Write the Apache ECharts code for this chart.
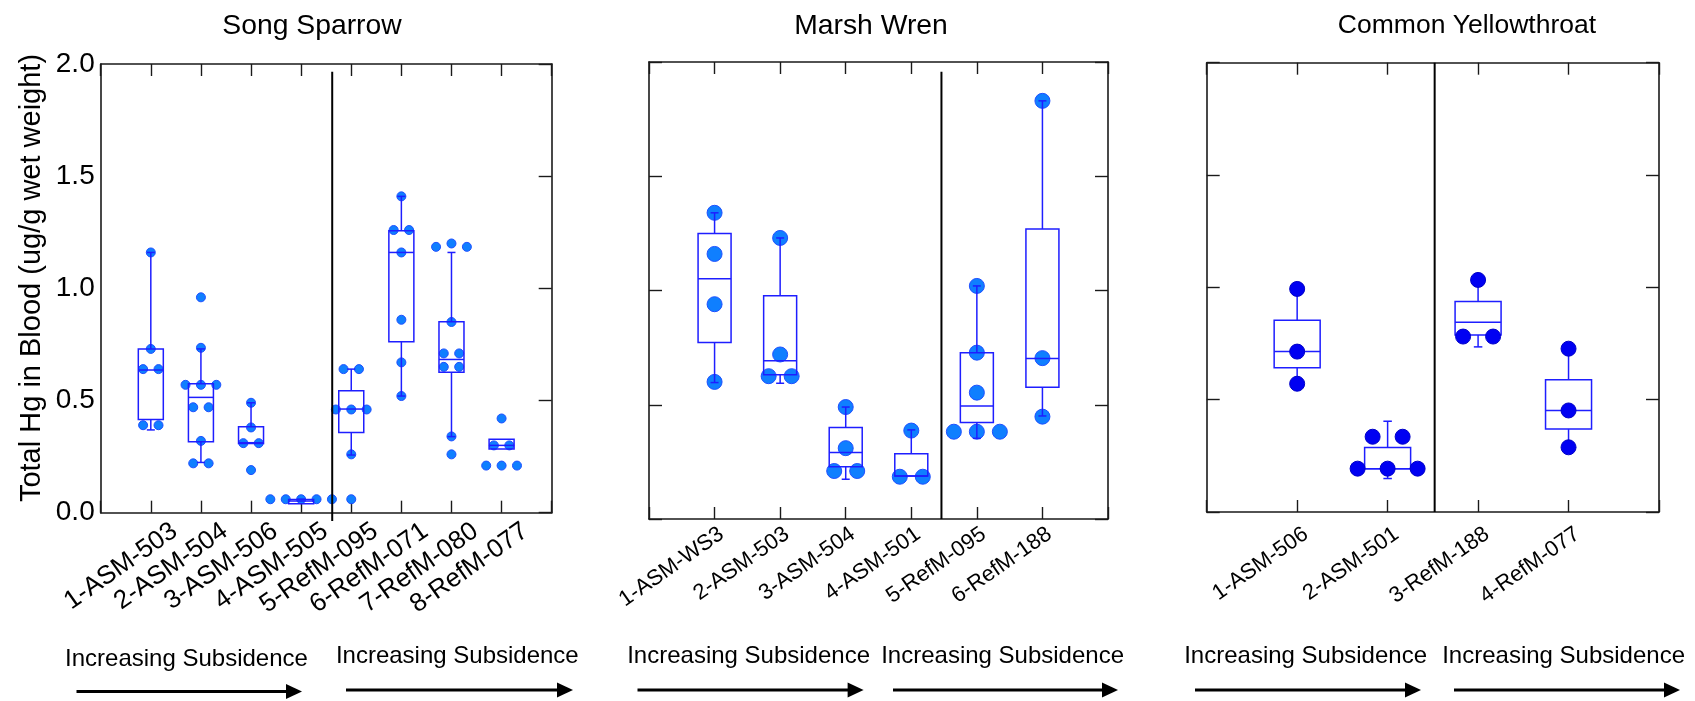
<!DOCTYPE html>
<html><head><meta charset="utf-8">
<script src="https://cdn.jsdelivr.net/npm/echarts@6/dist/echarts.min.js"></script>
<style>html,body{margin:0;padding:0;background:#fff}#chart{width:1695px;height:701px}</style>
</head><body><div id="chart"></div>
<script>
// ================= DATA =================
const yMin = 0, yMax = 2.0, yInterval = 0.5;
const yAxisTitle = 'Total Hg in Blood (ug/g wet weight)';
const footnoteText = 'Increasing Subsidence';

// Song Sparrow
const ssTitle = 'Song Sparrow';
const ssCategories = ['1-ASM-503','2-ASM-504','3-ASM-506','4-ASM-505','5-RefM-095','6-RefM-071','7-RefM-080','8-RefM-077'];
const ssWhiskerHigh = [1.16, 0.73, 0.49, 0.06, 0.64, 1.41, 1.16, 0.327];
const ssQ3          = [0.73, 0.575, 0.383, 0.059, 0.544, 1.257, 0.851, 0.327];
const ssMedian      = [0.636, 0.514, 0.312, 0.052, 0.462, 1.160, 0.683, 0.300];
const ssQ1          = [0.415, 0.316, 0.309, 0.040, 0.358, 0.762, 0.626, 0.284];
const ssWhiskerLow  = [0.369, 0.224, 0.309, 0.040, 0.257, 0.520, 0.339, 0.284];
const ssPoints = [
  [1.16, 0.73, 0.64, 0.64, 0.39, 0.39],
  [0.96, 0.735, 0.57, 0.57, 0.57, 0.47, 0.47, 0.32, 0.22, 0.22],
  [0.49, 0.38, 0.31, 0.31, 0.19],
  [0.06, 0.06, 0.06, 0.06, 0.06],
  [0.64, 0.64, 0.46, 0.46, 0.46, 0.26, 0.06],
  [1.41, 1.26, 1.26, 1.16, 0.86, 0.67, 0.52],
  [1.185, 1.20, 1.185, 0.85, 0.71, 0.71, 0.65, 0.65, 0.34, 0.26],
  [0.42, 0.30, 0.30, 0.21, 0.21, 0.21]
];
const ssDividerX = 4.62;

// Marsh Wren
const mwTitle = 'Marsh Wren';
const mwCategories = ['1-ASM-WS3','2-ASM-503','3-ASM-504','4-ASM-501','5-RefM-095','6-RefM-188'];
const mwWhiskerHigh = [1.34, 1.23, 0.49, 0.39, 1.02, 1.83];
const mwQ3          = [1.25, 0.977, 0.40, 0.286, 0.728, 1.269];
const mwMedian      = [1.051, 0.693, 0.291, 0.188, 0.495, 0.702];
const mwQ1          = [0.772, 0.631, 0.229, 0.188, 0.422, 0.577];
const mwWhiskerLow  = [0.597, 0.594, 0.174, 0.188, 0.353, 0.451];
const mwPoints = [
  [1.34, 1.16, 0.94, 0.60],
  [1.23, 0.72, 0.625, 0.625],
  [0.49, 0.31, 0.21, 0.21],
  [0.387, 0.185, 0.185],
  [1.02, 0.728, 0.553, 0.382, 0.382, 0.382],
  [1.83, 0.704, 0.448]
];
const mwDividerX = 4.46;

// Common Yellowthroat
const cyTitle = 'Common Yellowthroat';
const cyCategories = ['1-ASM-506','2-ASM-501','3-RefM-188','4-RefM-077'];
const cyWhiskerHigh = [0.993, 0.404, 1.033, 0.727];
const cyQ3          = [0.853, 0.287, 0.937, 0.589];
const cyMedian      = [0.714, 0.193, 0.845, 0.452];
const cyQ1          = [0.642, 0.193, 0.788, 0.369];
const cyWhiskerLow  = [0.571, 0.149, 0.735, 0.288];
const cyPoints = [
  [0.993, 0.714, 0.571],
  [0.335, 0.335, 0.193, 0.193, 0.193],
  [1.033, 0.781, 0.781],
  [0.727, 0.452, 0.288]
];
const cyDividerX = 2.52;

// ================= LAYOUT / STYLE =================
const FONT = "'Liberation Sans', Arial, Helvetica, sans-serif";
const FRAME = '#1a1a1a';
const BOX = '#1e1eff';

const panels = [
  { title: ssTitle, cats: ssCategories, hi: ssWhiskerHigh, q3: ssQ3, med: ssMedian, q1: ssQ1, lo: ssWhiskerLow, pts: ssPoints,
    divX: ssDividerX, divTopPx: 71.7, divBottomPx: 521,
    L: {left: 100.7, right: 551.7, top: 64, bottom: 512.7}, titleX: 312, titleSize: 28.3,
    labelShift: 24, labelMargin: 16, labelSize: 26, showYLabels: true, leftTicks: false,
    marker: 9, spacing: 15.4, boxW: 25, capW: 8, pointsOnTop: false, fill: '#0f7fff', stroke: '#1f50ff' },
  { title: mwTitle, cats: mwCategories, hi: mwWhiskerHigh, q3: mwQ3, med: mwMedian, q1: mwQ1, lo: mwWhiskerLow, pts: mwPoints,
    divX: mwDividerX, divTopPx: 71.7, divBottomPx: 519,
    L: {left: 649, right: 1108, top: 62, bottom: 519}, titleX: 871, titleSize: 28.3,
    labelShift: 7, labelMargin: 13, labelSize: 22, showYLabels: false, leftTicks: true,
    marker: 15, spacing: 23, boxW: 33, capW: 8, pointsOnTop: false, fill: '#0f7fff', stroke: '#1f50ff' },
  { title: cyTitle, cats: cyCategories, hi: cyWhiskerHigh, q3: cyQ3, med: cyMedian, q1: cyQ1, lo: cyWhiskerLow, pts: cyPoints,
    divX: cyDividerX, divTopPx: 62.7, divBottomPx: 512,
    L: {left: 1206.7, right: 1659, top: 62.7, bottom: 512}, titleX: 1467, titleSize: 26.5,
    labelShift: 9, labelMargin: 20, labelSize: 22, showYLabels: false, leftTicks: true,
    marker: 15, spacing: 30, boxW: 46, capW: 8.5, pointsOnTop: true, fill: '#0000f2', stroke: '#0000c8' }
];

const arrows = [
  {text: 186.5, ty: 659, x1: 76.5, x2: 302, y: 691.5},
  {text: 457.3, ty: 656.7, x1: 346, x2: 573, y: 690},
  {text: 748.6, ty: 656.7, x1: 637.5, x2: 863.6, y: 690},
  {text: 1002.6, ty: 656.7, x1: 893, x2: 1118, y: 690},
  {text: 1305.6, ty: 656.7, x1: 1195, x2: 1421, y: 690},
  {text: 1563.6, ty: 656.7, x1: 1454, x2: 1680, y: 690}
];

function swarm(values, spacingUnits) {
  const clusters = [];
  values.forEach(v => {
    let c = clusters.find(c => Math.abs(c.ref - v) <= 0.025);
    if (!c) { c = {ref: v, items: []}; clusters.push(c); }
    c.items.push(v);
  });
  const out = [];
  clusters.forEach(c => {
    const n = c.items.length;
    c.items.forEach((v, k) => out.push([(k - (n - 1) / 2) * spacingUnits, v]));
  });
  return out;
}

const grid = [], xAxis = [], yAxis = [], series = [], graphic = [];

panels.forEach((p, pi) => {
  const L = p.L, N = p.cats.length, xMax = N + 1;
  const W = L.right - L.left, H = L.bottom - L.top;
  grid.push({left: L.left, top: L.top, width: W, height: H, containLabel: false});
  grid.push({left: L.left + p.labelShift, top: L.top, width: W, height: H, containLabel: false});
  const gMain = pi * 2, gLab = pi * 2 + 1;
  const xBase = {type: 'value', min: 0, max: xMax, interval: 1, splitLine: {show: false}};
  const axLine = {show: true, onZero: false, lineStyle: {color: FRAME, width: 1.6}};
  const tick = (show, len) => ({show: show, inside: true, length: len, lineStyle: {color: FRAME, width: 1.4}});
  const xi = xAxis.length;
  xAxis.push(Object.assign({}, xBase, {gridIndex: gMain, position: 'bottom', axisLine: axLine,
    axisTick: tick(true, 12), axisLabel: {show: false}}));
  xAxis.push(Object.assign({}, xBase, {gridIndex: gMain, position: 'top', axisLine: axLine,
    axisTick: tick(true, 12), axisLabel: {show: false}}));
  xAxis.push(Object.assign({}, xBase, {gridIndex: gLab, position: 'bottom', axisLine: {show: false, onZero: false}, axisTick: {show: false},
    axisLabel: {show: true, rotate: 35, margin: p.labelMargin, fontSize: p.labelSize, fontFamily: FONT, color: '#000',
      formatter: v => (v >= 1 && v <= N && Math.abs(v - Math.round(v)) < 1e-6) ? p.cats[Math.round(v) - 1] : ''}}));
  const yBase = {type: 'value', min: yMin, max: yMax, interval: yInterval, splitLine: {show: false}};
  const yi = yAxis.length;
  yAxis.push(Object.assign({}, yBase, {gridIndex: gMain, position: 'left', axisLine: axLine,
    axisTick: tick(p.leftTicks, 13),
    axisLabel: {show: p.showYLabels, margin: 6, fontSize: 28, fontFamily: FONT, color: '#000', formatter: v => v.toFixed(1)}}));
  yAxis.push(Object.assign({}, yBase, {gridIndex: gMain, position: 'right', axisLine: axLine,
    axisTick: tick(true, 13), axisLabel: {show: false}}));
  yAxis.push(Object.assign({}, yBase, {gridIndex: gLab, show: false}));

  // boxes
  const boxData = p.cats.map((c, i) => [i + 1, p.lo[i], p.q1[i], p.med[i], p.q3[i], p.hi[i]]);
  series.push({
    type: 'custom', xAxisIndex: xi, yAxisIndex: yi, z: p.pointsOnTop ? 3 : 5, clip: false,
    encode: {x: 0, y: [1, 2, 3, 4, 5]},
    data: boxData,
    renderItem: (params, api) => {
      const x = api.value(0), lo = api.value(1), q1 = api.value(2), med = api.value(3), q3 = api.value(4), hi = api.value(5);
      const pLo = api.coord([x, lo]), pQ1 = api.coord([x, q1]), pMed = api.coord([x, med]), pQ3 = api.coord([x, q3]), pHi = api.coord([x, hi]);
      const cx = pMed[0], hw = p.boxW / 2, cw = p.capW / 2;
      const st = {stroke: BOX, lineWidth: 1.5, fill: null};
      const ch = [
        {type: 'rect', shape: {x: cx - hw, y: pQ3[1], width: 2 * hw, height: pQ1[1] - pQ3[1]}, style: {stroke: BOX, lineWidth: 1.5, fill: 'rgba(0,0,0,0)'}},
        {type: 'line', shape: {x1: cx - hw, y1: pMed[1], x2: cx + hw, y2: pMed[1]}, style: st}
      ];
      if (hi > q3 + 1e-9) {
        ch.push({type: 'line', shape: {x1: cx, y1: pQ3[1], x2: cx, y2: pHi[1]}, style: st});
        ch.push({type: 'line', shape: {x1: cx - cw, y1: pHi[1], x2: cx + cw, y2: pHi[1]}, style: st});
      }
      if (lo < q1 - 1e-9) {
        ch.push({type: 'line', shape: {x1: cx, y1: pQ1[1], x2: cx, y2: pLo[1]}, style: st});
        ch.push({type: 'line', shape: {x1: cx - cw, y1: pLo[1], x2: cx + cw, y2: pLo[1]}, style: st});
      }
      return {type: 'group', children: ch};
    }
  });

  // points
  const unitPx = W / xMax;
  const ptData = [];
  p.pts.forEach((vals, i) => {
    swarm(vals, p.spacing / unitPx).forEach(([dx, v]) => ptData.push([i + 1 + dx, v]));
  });
  series.push({
    type: 'scatter', xAxisIndex: xi, yAxisIndex: yi, z: p.pointsOnTop ? 5 : 3, clip: false,
    symbol: 'circle', symbolSize: p.marker, data: ptData,
    itemStyle: {color: p.fill, borderColor: p.stroke, borderWidth: 1, opacity: 1},
    emphasis: {disabled: true}
  });

  // divider line
  const yPerPx = (yMax - yMin) / H;
  series.push({
    type: 'line', xAxisIndex: xi, yAxisIndex: yi, z: 6, clip: false, symbol: 'none', silent: true,
    data: [[p.divX, yMax - (p.divTopPx - L.top) * yPerPx], [p.divX, yMax - (p.divBottomPx - L.top) * yPerPx]],
    lineStyle: {color: '#000', width: 2}
  });

  // title
  graphic.push({type: 'text', x: p.titleX, y: 26,
    style: {text: p.title, font: `${p.titleSize}px ${FONT}`, fill: '#000', textAlign: 'center', textVerticalAlign: 'middle'}});
});

// y axis title
graphic.push({type: 'text', x: 32, y: 278, rotation: Math.PI / 2,
  style: {text: yAxisTitle, font: `29px ${FONT}`, fill: '#000', textAlign: 'center', textVerticalAlign: 'middle'}});

// footnotes + arrows
arrows.forEach(a => {
  graphic.push({type: 'text', x: a.text, y: a.ty,
    style: {text: footnoteText, font: `24px ${FONT}`, fill: '#000', textAlign: 'center', textVerticalAlign: 'middle'}});
  graphic.push({type: 'line', shape: {x1: a.x1, y1: a.y, x2: a.x2 - 12, y2: a.y}, style: {stroke: '#000', lineWidth: 3}});
  graphic.push({type: 'polygon', shape: {points: [[a.x2 - 16, a.y - 7.5], [a.x2, a.y], [a.x2 - 16, a.y + 7.5]]}, style: {fill: '#000'}});
});

const chart = echarts.init(document.getElementById('chart'), null, {renderer: 'canvas'});
chart.setOption({
  animation: false,
  backgroundColor: '#fff',
  grid, xAxis, yAxis, series, graphic
});
</script>
</body></html>
